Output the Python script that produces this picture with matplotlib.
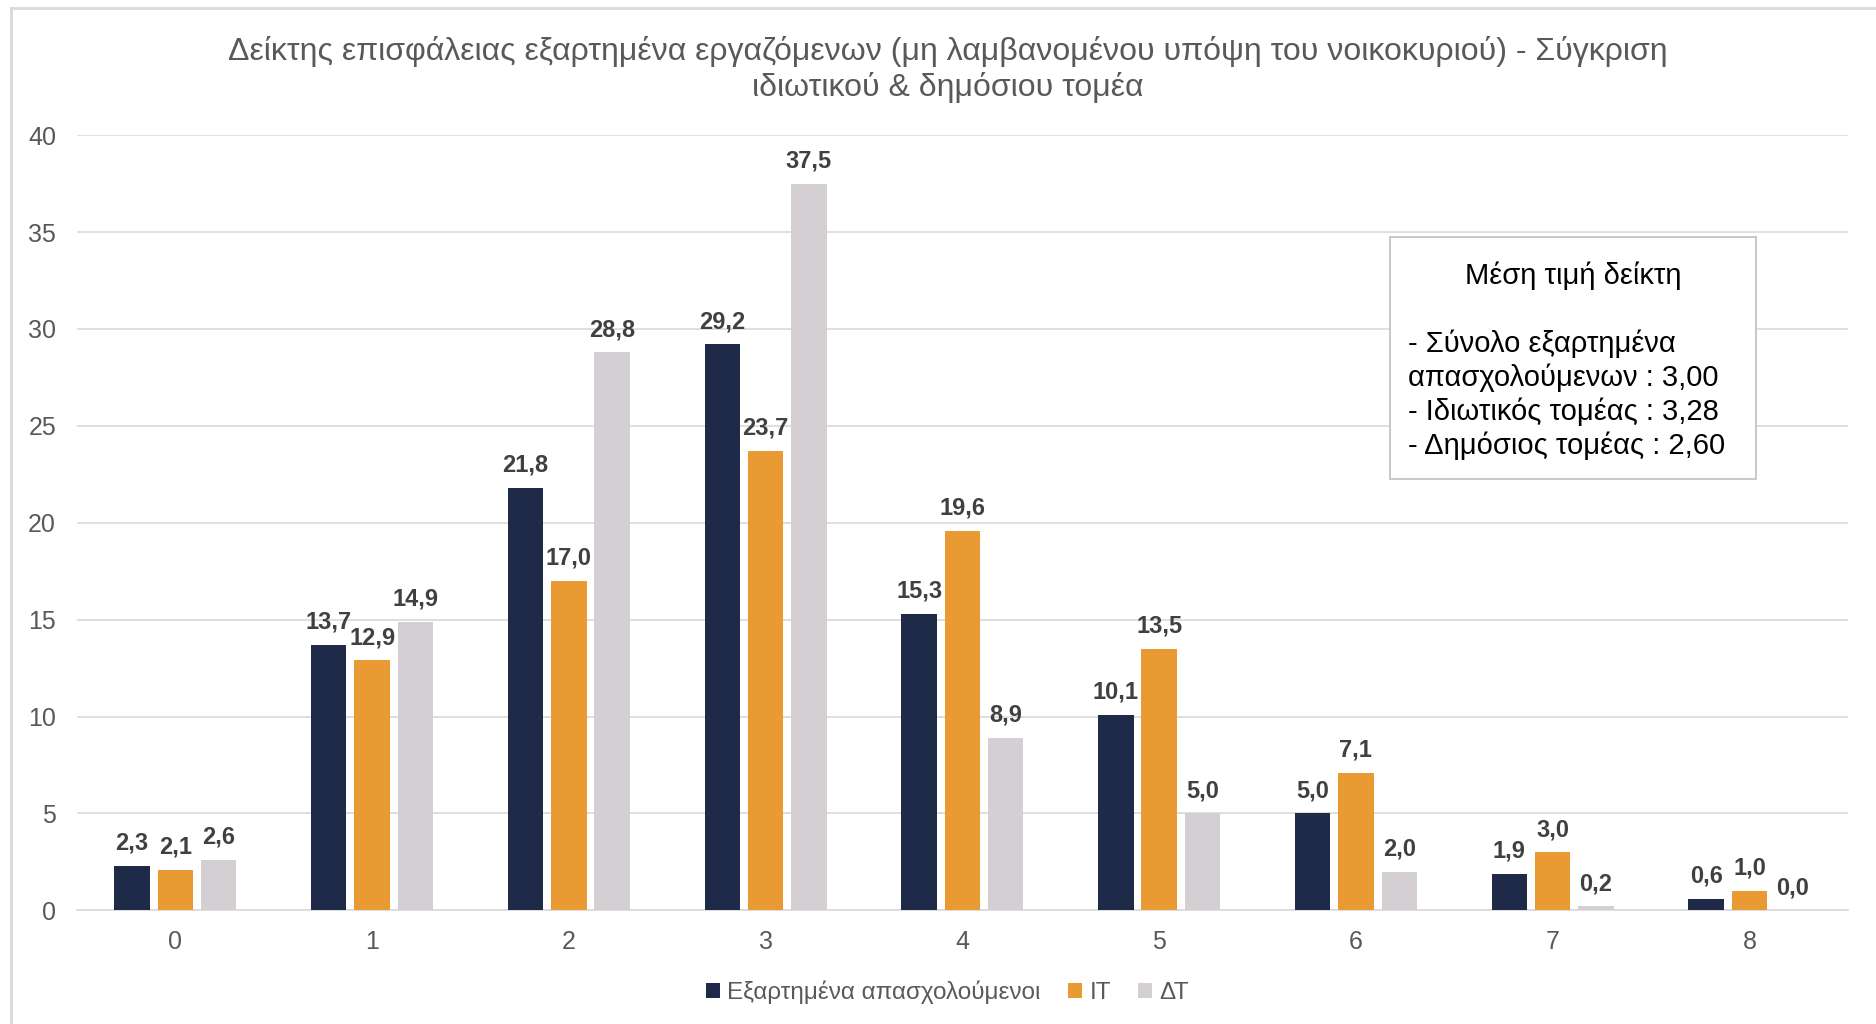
import numpy as np
import matplotlib
matplotlib.use('Agg')
import matplotlib.pyplot as plt
from matplotlib.lines import Line2D
from matplotlib.patches import Rectangle

plt.rcParams['font.family'] = ['Liberation Sans', 'DejaVu Sans']

categories = ['0', '1', '2', '3', '4', '5', '6', '7', '8']
employees = [2.3, 13.7, 21.8, 29.2, 15.3, 10.1, 5.0, 1.9, 0.6]
private_sector = [2.1, 12.9, 17.0, 23.7, 19.6, 13.5, 7.1, 3.0, 1.0]
public_sector = [2.6, 14.9, 28.8, 37.5, 8.9, 5.0, 2.0, 0.2, 0.0]
series_names = ['Εξαρτημένα απασχολούμενοι', 'ΙΤ', 'ΔΤ']
colors = ['#1F2A48', '#EA9A32', '#D4CFD3']

title = ('Δείκτης επισφάλειας εξαρτημένα εργαζόμενων (μη λαμβανομένου υπόψη του νοικοκυριού) - Σύγκριση\n'
         'ιδιωτικού & δημόσιου τομέα')
box_title = 'Μέση τιμή δείκτη'
box_lines = ['- Σύνολο εξαρτημένα',
             'απασχολούμενων : 3,00',
             '- Ιδιωτικός τομέας : 3,28',
             '- Δημόσιος τομέας : 2,60']

fig = plt.figure(figsize=(18.76, 10.24), dpi=100)
ax = fig.add_axes([0.041, 0.111, 0.944, 0.757])

x = np.arange(len(categories))
width = 0.18
step = 0.22
for i, (vals, name, c) in enumerate(zip([employees, private_sector, public_sector], series_names, colors)):
    bars = ax.bar(x + (i - 1) * step, vals, width, color=c, label=name, zorder=3)
    for b, v in zip(bars, vals):
        ax.annotate(f'{v:.1f}'.replace('.', ','), (b.get_x() + b.get_width() / 2, v),
                    xytext=(0, 8), textcoords='offset points', ha='center', va='bottom',
                    fontsize=17, fontweight='bold', color='#404040')

ax.set_xlim(-0.5, 8.5)
ax.set_ylim(0, 40)
ax.set_yticks(range(0, 41, 5))
ax.set_xticks(x)
ax.set_xticklabels(categories)
ax.grid(axis='y', color='#D9D9D9', linewidth=1.2, zorder=0)
for s in ['top', 'right', 'left']:
    ax.spines[s].set_visible(False)
ax.spines['bottom'].set_color('#D9D9D9')
ax.spines['bottom'].set_linewidth(1.2)
ax.tick_params(axis='both', length=0, labelsize=18, colors='#595959')
ax.tick_params(axis='y', pad=15)
ax.tick_params(axis='x', pad=14)

fig.text(0.505, 0.932, title, ha='center', va='center', fontsize=23, color='#595959',
         linespacing=1.2)

# annotation box with mean values
fig.patches.append(Rectangle((1390 / 1876, 1 - 479 / 1024), 366 / 1876, 242 / 1024,
                             transform=fig.transFigure, facecolor='white',
                             edgecolor='#BFBFBF', linewidth=1.2, zorder=1))
fig.text(1573 / 1876, 1 - 276 / 1024, box_title, ha='center', va='center', fontsize=21, color='black')
for k, line in enumerate(box_lines):
    fig.text(1408 / 1876, 1 - (344 + k * 34) / 1024, line, ha='left', va='center',
             fontsize=21, color='black')

leg = fig.legend(loc='center', bbox_to_anchor=(0.505, 0.031), ncol=3, frameon=False,
                 fontsize=17.5, handlelength=0.6, handleheight=0.6, handletextpad=0.3,
                 columnspacing=1.1)
for t in leg.get_texts():
    t.set_color('#595959')

# outer chart frame
fig.add_artist(Line2D([0.006, 0.006], [0.0, 0.992], transform=fig.transFigure, color='#D9D9D9', linewidth=2))
fig.add_artist(Line2D([0.006, 1.0], [0.992, 0.992], transform=fig.transFigure, color='#D9D9D9', linewidth=2))

fig.savefig('out.png', dpi=100)
